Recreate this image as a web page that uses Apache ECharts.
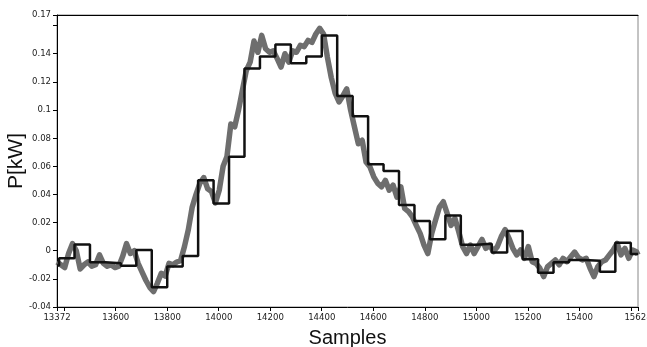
<!DOCTYPE html>
<html>
<head>
<meta charset="utf-8">
<script src="https://cdn.jsdelivr.net/npm/echarts@6/dist/echarts.min.js"></script>
<style>
    html, body { margin: 0; padding: 0; background: #fff; }
    #chart { width: 647px; height: 347px; }
</style>
</head>
<body>
<div id="chart"></div>
<script>
    // measured power, one reading every 15 samples from 13372
    const grayStart = 13372
    const grayStep = 15
    const grayValues = [
        -0.008, -0.010, -0.012, -0.002, 0.005, 0.000, -0.013, -0.010, -0.008, -0.011,
        -0.010, -0.003, -0.009, -0.011, -0.010, -0.012, -0.011, -0.004, 0.005, -0.002,
        0.000, -0.009, -0.015, -0.021, -0.026, -0.029, -0.023, -0.016, -0.018, -0.009,
        -0.010, -0.008, -0.007, 0.003, 0.015, 0.031, 0.040, 0.048, 0.052, 0.044,
        0.042, 0.034, 0.043, 0.060, 0.067, 0.090, 0.088, 0.100, 0.114, 0.128,
        0.134, 0.149, 0.141, 0.153, 0.1435, 0.141, 0.142, 0.1365, 0.1305, 0.140,
        0.134, 0.142, 0.141, 0.146, 0.145, 0.1495, 0.148, 0.154, 0.158, 0.154,
        0.1375, 0.123, 0.112, 0.1057, 0.110, 0.115, 0.100, 0.088, 0.076, 0.0785,
        0.063, 0.0596, 0.0525, 0.048, 0.0454, 0.050, 0.043, 0.0466, 0.038, 0.0454,
        0.030, 0.0277, 0.024, 0.018, 0.0123, 0.004, -0.002, 0.0123, 0.0218, 0.031,
        0.0348, 0.0265, 0.018, 0.023, 0.0135, 0.003, -0.002, 0.004, -0.002, 0.003,
        0.008, 0.0017, 0.004, -0.0007, 0.003, 0.010, 0.015, 0.0088, 0.0017, -0.003,
        0.0005, -0.0054, 0.003, -0.0078, -0.009, -0.0125, -0.0184, -0.0113, -0.009, -0.0066,
        -0.010, -0.0054, -0.0078, -0.0043, -0.001, -0.005, -0.0066, -0.0054, -0.0125, -0.0184,
        -0.0113, -0.0078, -0.0066, -0.003, 0.0005, 0.0052, -0.003, 0.0017, -0.0054, 0.0005,
        -0.0007
    ]
    const grayLast = [15628, -0.003]

    // step approximation: block start sample -> value
    const stepStarts = [
        13372, 13380, 13440, 13500, 13560, 13620, 13680, 13740, 13800, 13860,
        13920, 13980, 14040, 14100, 14160, 14220, 14280, 14340, 14400, 14460,
        14520, 14580, 14640, 14700, 14760, 14820, 14880, 14940, 15000, 15060,
        15120, 15180, 15240, 15300, 15360, 15420, 15480, 15540, 15600
    ]
    const stepValues = [
        -0.0105, -0.0054, 0.0045, -0.0082, -0.0089, -0.0106, 0.0005, -0.026, -0.0113, -0.0038,
        0.050, 0.0336, 0.0667, 0.1294, 0.138, 0.1466, 0.1333, 0.138, 0.153, 0.110,
        0.0955, 0.0615, 0.0567, 0.0324, 0.0211, 0.0081, 0.025, 0.0042, 0.0050, -0.0012,
        0.014, -0.006, -0.0156, -0.0082, -0.0066, -0.0071, -0.0149, 0.0057, -0.0023
    ]
    const stepEnd = 15628

    const xMin = 13372, xMax = 15628
    const xTicks = [13372, 13400, 13600, 13800, 14000, 14200, 14400, 14600, 14800, 15000, 15200, 15400, 15600, 15628]
    const xLabels = [13372, 13600, 13800, 14000, 14200, 14400, 14600, 14800, 15000, 15200, 15400, 15628]

    const yMin = -0.04, yMax = 0.1675
    const yTicks = [-0.04, -0.02, 0, 0.02, 0.04, 0.06, 0.08, 0.1, 0.12, 0.14, 0.16, 0.1675]
    const yLabels = [-0.04, -0.02, 0, 0.02, 0.04, 0.06, 0.08, 0.1, 0.12, 0.14, 0.1675]
    const yLabelText = ['-0.04', '-0.02', '0', '0.02', '0.04', '0.06', '0.08', '0.1', '0.12', '0.14', '0.17']

    const grayData = grayValues.map((v, i) => [grayStart + i * grayStep, v]).concat([grayLast])
    const stepData = stepStarts.map((s, i) => [s, stepValues[i]])
    stepData.push([stepEnd, stepValues[stepValues.length - 1]])

    const tickFont = {
        fontFamily: "'DejaVu Sans Condensed', 'Liberation Sans', sans-serif",
        fontSize: 9.5,
        color: '#222'
    }

    const chart = echarts.init(document.getElementById('chart'))
    chart.setOption({
        animation: false,
        backgroundColor: '#fff',
        grid: {
            left: 57,
            right: 9,
            top: 15,
            bottom: 40,
            outerBoundsMode: 'none',
            containLabel: false,
            show: true,
            borderColor: '#888',
            borderWidth: 1
        },
        xAxis: [{
            type: 'value',
            min: xMin,
            max: xMax,
            name: 'Samples',
            nameLocation: 'middle',
            nameGap: 21,
            nameMoveOverlap: false,
            nameTextStyle: {
                fontFamily: 'Liberation Sans',
                fontSize: 20,
                color: '#111',
                verticalAlign: 'top'
            },
            axisLine: { onZero: false, lineStyle: { color: '#000', width: 1 } },
            axisTick: {
                length: 4,
                customValues: xTicks,
                lineStyle: { color: '#000' }
            },
            axisLabel: Object.assign({
                customValues: xLabels,
                margin: 6,
                formatter: v => String(v)
            }, tickFont),
            splitLine: { show: false }
        }, {
            type: 'value',
            position: 'top',
            min: xMin,
            max: xMax,
            axisLine: { onZero: false, lineStyle: { color: '#000', width: 1 } },
            axisTick: { show: false },
            axisLabel: { show: false },
            splitLine: { show: false }
        }],
        yAxis: {
            type: 'value',
            min: yMin,
            max: yMax,
            name: 'P[kW]',
            nameLocation: 'middle',
            nameGap: 30,
            nameMoveOverlap: false,
            nameTextStyle: {
                fontFamily: 'Liberation Sans',
                fontSize: 21,
                color: '#111'
            },
            axisLine: { show: true, onZero: false, lineStyle: { color: '#000', width: 1 } },
            axisTick: {
                show: true,
                length: 4,
                customValues: yTicks,
                lineStyle: { color: '#000' }
            },
            axisLabel: Object.assign({
                customValues: yLabels,
                margin: 6,
                formatter: v => {
                    const k = yLabels.findIndex(t => Math.abs(t - v) < 1e-6)
                    return k >= 0 ? yLabelText[k] : ''
                }
            }, tickFont),
            splitLine: { show: false }
        },
        series: [{
            name: 'measured',
            type: 'line',
            data: grayData,
            showSymbol: false,
            symbol: 'none',
            lineStyle: { color: '#6e6e6e', width: 5.5, join: 'round' },
            z: 2
        }, {
            name: 'step',
            type: 'line',
            step: 'end',
            data: stepData,
            showSymbol: false,
            symbol: 'none',
            lineStyle: { color: '#111', width: 2.5 },
            z: 3
        }]
    })
</script>
</body>
</html>
